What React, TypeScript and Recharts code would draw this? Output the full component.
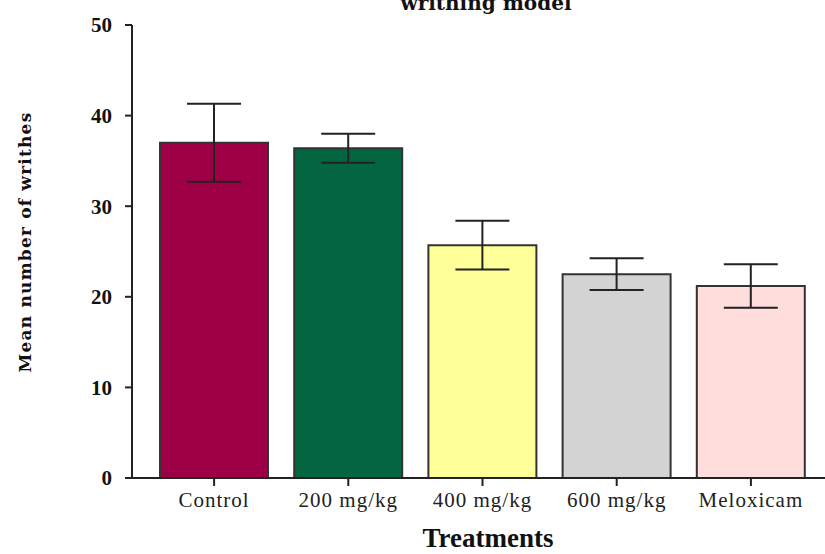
import { Bar, BarChart, Cell, ErrorBar, XAxis, YAxis } from "recharts";

const treatments = ["Control", "200 mg/kg", "400 mg/kg", "600 mg/kg", "Meloxicam"];
const meanWrithes = [37.0, 36.4, 25.7, 22.5, 21.2];
const semWrithes = [4.3, 1.6, 2.7, 1.75, 2.4];
const barColors = ["#9e0045", "#046641", "#ffff99", "#d3d3d3", "#ffdddd"];
const yTicks = [0, 10, 20, 30, 40, 50];

const data = treatments.map((name, i) => ({
  name,
  mean: meanWrithes[i],
  err: semWrithes[i]
}));

const serif = "'Liberation Serif', 'Times New Roman', serif";
const wideSerif = "'DejaVu Serif', serif";

export default function App() {
  return (
    <div
      style={{
        position: "fixed",
        left: 0,
        top: 0,
        width: 825,
        height: 554,
        background: "#fff",
        fontFamily: serif,
        overflow: "hidden"
      }}
    >
      <div
        style={{
          position: "absolute",
          left: 336,
          top: -9,
          width: 300,
          textAlign: "center",
          fontWeight: "bold",
          fontSize: 20,
          fontFamily: wideSerif,
          color: "#111"
        }}
      >
        writhing model
      </div>
      <BarChart
        width={825}
        height={554}
        data={data}
        margin={{ top: 25, right: 0, bottom: 46, left: 72 }}
      >
        <XAxis
          dataKey="name"
          height={30}
          padding={{ left: 15, right: 7 }}
          axisLine={{ stroke: "#222", strokeWidth: 2 }}
          tickLine={{ stroke: "#222", strokeWidth: 2 }}
          tickSize={8}
          tickMargin={6}
          tick={{ fill: "#222", fontSize: 21, fontFamily: serif, letterSpacing: 1 }}
        />
        <YAxis
          width={60}
          domain={[0, 50]}
          ticks={yTicks}
          axisLine={{ stroke: "#222", strokeWidth: 2 }}
          tickLine={{ stroke: "#222", strokeWidth: 2 }}
          tickSize={7}
          tickMargin={13}
          tick={{ fill: "#111", fontSize: 21, fontWeight: "bold", fontFamily: serif }}
        />
        <Bar dataKey="mean" barSize={108} stroke="#333" strokeWidth={2} isAnimationActive={false}>
          {data.map((d, i) => (
            <Cell key={d.name} fill={barColors[i]} />
          ))}
          <ErrorBar dataKey="err" width={27} stroke="#222" strokeWidth={2} isAnimationActive={false} />
        </Bar>
      </BarChart>
      <div
        style={{
          position: "absolute",
          left: 338,
          top: 523,
          width: 300,
          textAlign: "center",
          fontWeight: "bold",
          fontSize: 27,
          color: "#111"
        }}
      >
        Treatments
      </div>
      <div
        style={{
          position: "absolute",
          left: 25,
          top: 242,
          transform: "translate(-50%, -50%) rotate(-90deg)",
          whiteSpace: "nowrap",
          fontWeight: "bold",
          fontSize: 17,
          fontFamily: wideSerif,
          letterSpacing: 1.2,
          color: "#111"
        }}
      >
        Mean number of writhes
      </div>
    </div>
  );
}
